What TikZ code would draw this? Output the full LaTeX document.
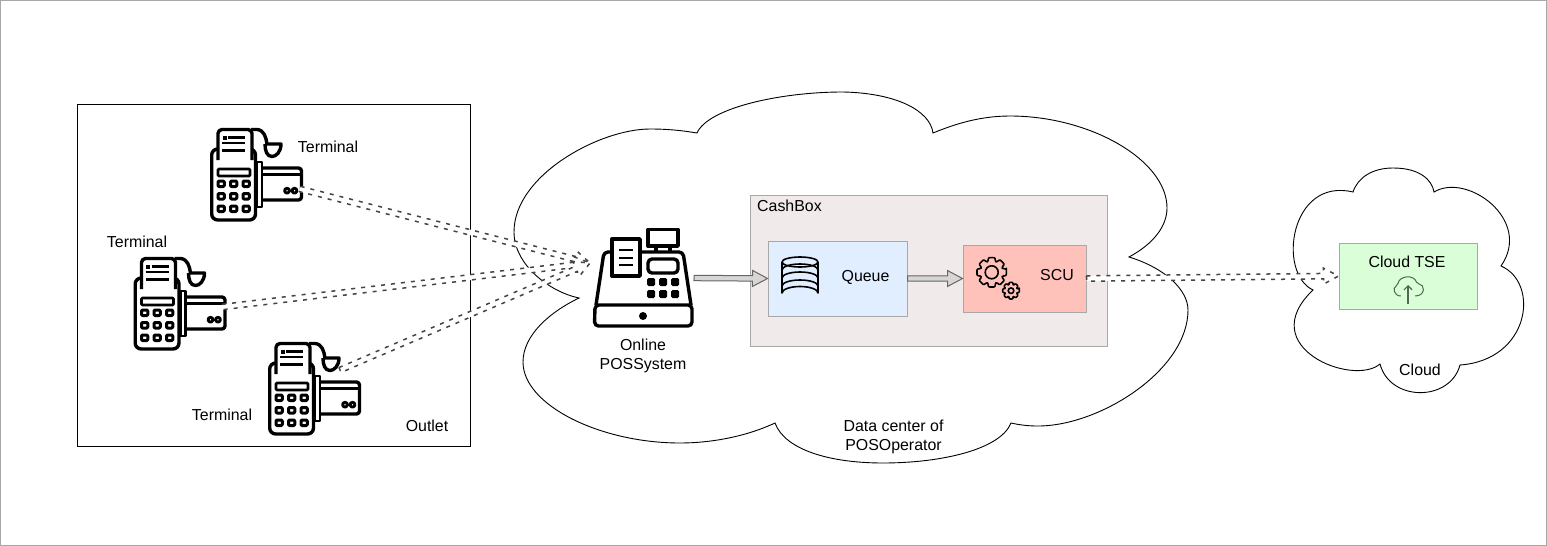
\documentclass[tikz,border=0pt]{standalone}
\usepackage{fontspec}
\setmainfont{Liberation Sans}
\usetikzlibrary{calc,positioning,arrows.meta}
\definecolor{cashfill}{HTML}{F0EAEA}
\definecolor{queuefill}{HTML}{E1EEFF}
\definecolor{scufill}{HTML}{FFC2BB}
\definecolor{tsefill}{HTML}{DAFFD8}
\definecolor{boxline}{HTML}{A8A8A8}
\definecolor{flexfill}{HTML}{D8D5D5}
\definecolor{flexline}{HTML}{666666}
\definecolor{dashline}{HTML}{444444}
\definecolor{upline}{HTML}{4F6A4F}
\tikzset{
  labeltext/.style={font=\fontsize{15.9}{19}\selectfont, inner sep=0pt, align=center},
  colorbox/.style={draw=boxline, line width=1pt, inner sep=0pt},
  cloudline/.style={draw=black, line width=0.9pt, fill=white},
  solidflex/.style={draw=flexline, fill=flexfill, line width=1pt},
  dashflex/.style={draw=dashline, fill=white, line width=1.5pt, dash pattern=on 4pt off 6pt},
  iconline/.style={draw=black, line width=3.4pt, line join=round},
  thinline/.style={draw=black, line width=1.6pt, line join=round},
  pics/terminal/.style={code={
    \draw[iconline, rounded corners=6pt] (1.7,22) rectangle (45.5,93);
    \draw[iconline, rounded corners=3pt] (47,41) -- (91.5,41) -- (91.5,73) -- (47,73);
    \draw[iconline, line width=2.8pt] (52,47.5) -- (91,47.5);
    \draw[iconline, line width=2.8pt, fill=white] (47,35) rectangle (52,80);
    \draw[iconline, line width=2.9pt] (77,63.7) circle (2.4) (84.5,63.7) circle (2.4);
    \draw[iconline, fill=white] (41,2.5) -- (47,2.5) .. controls (54,3) and (56,10) .. (57,17) -- (71,17) .. controls (71,25) and (66,29.5) .. (62,29.5) .. controls (57,29.5) and (55,24) .. (55,17);
    \draw[iconline, rounded corners=4pt, fill=white] (8,33) -- (8,2.5) -- (42,2.5) -- (42,33);
    \fill (12.5,9) rectangle (16.5,12.5);
    \draw[iconline, line width=2.2pt] (18,10.5) -- (35,10.5) (12,16) -- (35,16) (12,23.5) -- (35,23.5);
    \draw[iconline, line width=2.8pt, rounded corners=1pt] (8,42) rectangle (40,49);
    \foreach \keyx in {8,20.5,33} {
      \foreach \keyy in {54,66.5,79} {
        \draw[iconline, line width=3pt, rounded corners=1pt] (\keyx,\keyy) rectangle ++(6.3,5.5);
      }
    }
    \coordinate (-cardlow) at (90,62);
    \coordinate (-cardtop) at (89,51);
    \coordinate (-roll) at (72,29);
  }},
  pics/possystem/.style={code={
    \draw[iconline, rounded corners=4pt] (18,24) -- (11,24) -- (3,77) (47,24) -- (90,24) -- (98,77);
    \draw[iconline, rounded corners=4pt] (2,77) -- (99,77) -- (99,98) -- (1.5,98) -- cycle;
    \draw[iconline, fill=white] (19,11) rectangle (47,48);
    \draw[iconline, line width=2.8pt] (26,22) -- (40,22) (26,30) -- (40,30) (26,37) -- (40,37);
    \draw[iconline] (55,1.5) rectangle (85,18);
    \draw[iconline] (63,18) -- (63,24) (77,18) -- (77,24);
    \draw[iconline, rounded corners=4pt] (55,31) rectangle (85,45);
    \foreach \keyx in {54,66,78} {
      \foreach \keyy in {50,62} {
        \fill[rounded corners=1.5pt] (\keyx,\keyy) rectangle ++(8,8);
      }
    }
    \fill (50,88) circle (4);
    \coordinate (-inlet) at (-3,35);
    \coordinate (-outlet) at (101,50);
  }},
  pics/gear/.style 2 args={code={
    \draw[thinline, rounded corners=0.8pt] (-12:#1) \foreach \gearang in {0,45,...,315} {
      -- (\gearang-12:#1) -- (\gearang+12:#1) -- (\gearang+20:#1*0.76) -- (\gearang+25:#1*0.76)
    } -- cycle;
    \draw[thinline] (0,0) circle (#2);
  }}
}
\newcommand{\flexarrow}[3]{
  \coordinate (headbase) at ($(#2)!15pt!(#3)$);
  \draw[#1] ($(#3)!2.7pt!90:(#2)$) -- ($(headbase)!2.7pt!-90:(#3)$) -- ($(headbase)!8pt!-90:(#3)$)
    -- (#2) -- ($(headbase)!8pt!90:(#3)$) -- ($(headbase)!2.7pt!90:(#3)$) -- ($(#3)!2.7pt!-90:(#2)$) -- cycle;
}
\begin{document}
\begin{tikzpicture}[x=1pt, y=-1pt]
  \useasboundingbox (0,0) rectangle (1547,546);
  \draw[boxline, line width=1pt] (0.5,0.5) rectangle (1546.5,545.5);

  \draw[cloudline] (697,133) .. controls (708,108) and (780,92) .. (843,92)
    .. controls (895,93) and (930,110) .. (933,133)
    .. controls (955,124) and (980,116) .. (1010,116)
    .. controls (1090,116) and (1167,160) .. (1167,208)
    .. controls (1167,225) and (1155,243) .. (1129,257)
    .. controls (1165,268) and (1188,290) .. (1188,310)
    .. controls (1188,370) and (1100,426) .. (1038,426)
    .. controls (1028,426) and (1020,425) .. (1011,423)
    .. controls (1000,450) and (940,463) .. (883,463)
    .. controls (830,463) and (785,450) .. (775,423)
    .. controls (745,437) and (710,443) .. (680,443)
    .. controls (600,443) and (523,405) .. (523,362)
    .. controls (523,335) and (550,312) .. (579,298)
    .. controls (550,292) and (514,265) .. (514,232)
    .. controls (514,175) and (600,129) .. (650,129)
    .. controls (670,129) and (685,131) .. cycle;
  \draw[cloudline] (1353,192) .. controls (1358,177) and (1373,168) .. (1393,168)
    .. controls (1420,168) and (1432,180) .. (1434,192)
    .. controls (1467,172) and (1533,220) .. (1501,266)
    .. controls (1540,283) and (1530,360) .. (1460,365)
    .. controls (1450,402) and (1390,402) .. (1380,364)
    .. controls (1353,387) and (1253,347) .. (1313,290)
    .. controls (1277,273) and (1290,177) .. cycle;

  \node (outlet) [draw=black, line width=1pt, inner sep=0pt, minimum width=393pt, minimum height=342pt] at (273.5,275) {};
  \node (cashbox) [colorbox, fill=cashfill, minimum width=357pt, minimum height=151pt] at (929,270.5) {};
  \node (queue) [colorbox, fill=queuefill, minimum width=139pt, minimum height=75pt] at (837.5,278.5) {};
  \node (scu) [colorbox, fill=scufill, minimum width=123pt, minimum height=67pt] at (1024.5,278.5) {};
  \node (tse) [colorbox, fill=tsefill, minimum width=138pt, minimum height=66pt] at (1408,276) {};

  \node (cashlabel) [labeltext, anchor=west] at (757,206) {CashBox};
  \node (queuelabel) [labeltext] at (865.5,277.5) {Queue};
  \node (sculabel) [labeltext] at (1057,275.5) {SCU};
  \node (tselabel) [labeltext] at (1407,262) {Cloud TSE};
  \node (cloudlabel) [labeltext] at (1420,369.5) {Cloud};
  \node (dclabel) [labeltext] at (893.5,436.5) {Data center of\\POSOperator};
  \node (poslabel) [labeltext] at (643,355.5) {Online\\POSSystem};
  \node (outletlabel) [labeltext] at (427,425.5) {Outlet};
  \node (terma) [labeltext] at (328,146.5) {Terminal};
  \node (termb) [labeltext] at (137,241.5) {Terminal};
  \node (termc) [labeltext] at (222,414.5) {Terminal};

  \pic (deva) at (210,127) {terminal};
  \pic (devb) at (133.5,256) {terminal};
  \pic (devc) at (268,341) {terminal};
  \pic (pos) at (593,228) {possystem};

  \draw[thinline, fill=queuefill] (782,262) -- (782,293) arc[start angle=180, end angle=360, x radius=18, y radius=6.5] -- (818,262);
  \foreach \dby in {270,278,286} {
    \draw[thinline] (782,\dby) arc[start angle=180, end angle=360, x radius=18, y radius=6];
  }
  \draw[thinline] (800,262) ellipse (18 and 5);

  \pic at (991.7,272.3) {gear={15}{6.5}};
  \pic at (1011,290.7) {gear={8.5}{2.8}};

  \draw[upline, line width=1pt, rounded corners=2pt] (1401,296) .. controls (1394,296) and (1392,288) .. (1398,285)
    .. controls (1399,276) and (1414,274) .. (1417,284) .. controls (1425,284) and (1426,296) .. (1415,296);
  \draw[upline, line width=1.2pt, -{Straight Barb[length=4pt, width=8pt]}] (1408,304) -- (1408,285);

  \flexarrow{solidflex}{queue.west}{pos-outlet}
  \flexarrow{solidflex}{scu.west}{queue.east}
  \flexarrow{dashflex}{pos-inlet}{deva-cardlow}
  \flexarrow{dashflex}{pos-inlet}{devb-cardtop}
  \flexarrow{dashflex}{pos-inlet}{devc-roll}
  \flexarrow{dashflex}{tse.west}{scu.east}
\end{tikzpicture}
\end{document}
